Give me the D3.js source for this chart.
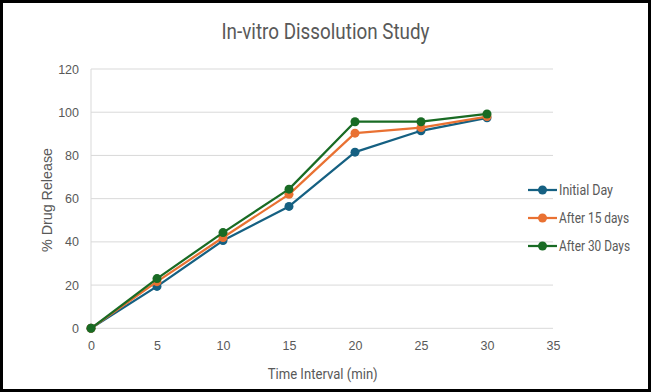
<!DOCTYPE html>
<html><head><meta charset="utf-8">
<script src="https://cdn.jsdelivr.net/npm/d3@7"></script>
<style>
html,body{margin:0;padding:0;background:#fff;}
svg{display:block;}
</style></head>
<body>
<svg id="chart" width="651" height="392"></svg>
<script>
const times = [0, 5, 10, 15, 20, 25, 30];
const initialDay = [0, 19.4, 40.6, 56.4, 81.5, 91.4, 97.4];
const after15 = [0, 21.6, 42.0, 62.0, 90.3, 92.9, 98.0];
const after30 = [0, 23.0, 44.3, 64.4, 95.6, 95.6, 99.2];
const seriesNames = ["Initial Day", "After 15 days", "After 30 Days"];
const seriesColors = ["#156082", "#E97132", "#196B24"];
const xTicks = [0, 5, 10, 15, 20, 25, 30, 35];
const yTicks = [0, 20, 40, 60, 80, 100, 120];

const svg = d3.select("#chart");
const W = 651, H = 392;
const narrow = "Roboto,'Liberation Sans',sans-serif";
const tickFont = "'Liberation Sans',Arial,sans-serif";
const textCol = "#595959";

// frame
svg.append("rect").attr("x", 1.5).attr("y", 1.5).attr("width", W - 3).attr("height", H - 3)
  .attr("fill", "#fff").attr("stroke", "#000").attr("stroke-width", 3);

const x = d3.scaleLinear().domain([0, 35]).range([91, 553]);
const y = d3.scaleLinear().domain([0, 120]).range([328.3, 69]);

// gridlines
svg.append("g").selectAll("line").data(yTicks).join("line")
  .attr("x1", x(0)).attr("x2", x(35))
  .attr("y1", d => y(d)).attr("y2", d => y(d))
  .attr("stroke", "#d9d9d9").attr("stroke-width", 1);
svg.append("line").attr("x1", x(0)).attr("x2", x(0)).attr("y1", y(0)).attr("y2", y(120))
  .attr("stroke", "#d9d9d9").attr("stroke-width", 1);

// y axis
const yAxis = d3.axisLeft(y).tickValues(yTicks).tickSize(0).tickPadding(12);
const gy = svg.append("g").attr("transform", `translate(${x(0)},0)`).call(yAxis);
gy.select(".domain").remove();
gy.selectAll("text").attr("fill", textCol).style("font-family", tickFont).style("font-size", "12.5px");

// x axis
const xAxis = d3.axisBottom(x).tickValues(xTicks).tickSize(0).tickPadding(13);
const gx = svg.append("g").attr("transform", `translate(0,${y(0)})`).call(xAxis);
gx.select(".domain").remove();
gx.selectAll("text").attr("fill", textCol).style("font-family", tickFont).style("font-size", "12.5px");

// title
svg.append("text").attr("x", 325.5).attr("y", 38.5).attr("text-anchor", "middle")
  .attr("fill", textCol).style("font-family", narrow).style("font-size", "22px")
  .attr("textLength", 208).attr("lengthAdjust", "spacingAndGlyphs")
  .text("In-vitro Dissolution Study");

// axis titles
svg.append("text").attr("x", 322.7).attr("y", 379).attr("text-anchor", "middle")
  .attr("fill", textCol).style("font-family", narrow).style("font-size", "15.5px")
  .attr("textLength", 110).attr("lengthAdjust", "spacingAndGlyphs")
  .text("Time Interval (min)");
svg.append("text").attr("transform", "translate(52,200) rotate(-90)").attr("text-anchor", "middle")
  .attr("fill", textCol).style("font-family", tickFont).style("font-size", "14px")
  .attr("textLength", 104).attr("lengthAdjust", "spacingAndGlyphs")
  .text("% Drug Release");

// series
const allSeries = [initialDay, after15, after30];
const line = d3.line().x((d, i) => x(times[i])).y(d => y(d));
allSeries.forEach((vals, si) => {
  const g = svg.append("g");
  g.append("path").datum(vals).attr("d", line).attr("fill", "none")
    .attr("stroke", seriesColors[si]).attr("stroke-width", 2.25).attr("stroke-linejoin", "round");
  g.selectAll("circle").data(vals).join("circle")
    .attr("cx", (d, i) => x(times[i])).attr("cy", d => y(d)).attr("r", 4.5)
    .attr("fill", seriesColors[si]);
});

// legend
const legY = [190, 218, 246];
const legW = [54, 70, 71];
seriesNames.forEach((name, i) => {
  const g = svg.append("g").attr("transform", `translate(0,${legY[i]})`);
  g.append("line").attr("x1", 528).attr("x2", 557).attr("y1", 0).attr("y2", 0)
    .attr("stroke", seriesColors[i]).attr("stroke-width", 2.25);
  g.append("circle").attr("cx", 542.5).attr("cy", 0).attr("r", 4.5).attr("fill", seriesColors[i]);
  g.append("text").attr("x", 559).attr("y", 5).attr("fill", textCol)
    .style("font-family", narrow).style("font-size", "14px")
    .attr("textLength", legW[i]).attr("lengthAdjust", "spacingAndGlyphs").text(name);
});
</script>
</body></html>
